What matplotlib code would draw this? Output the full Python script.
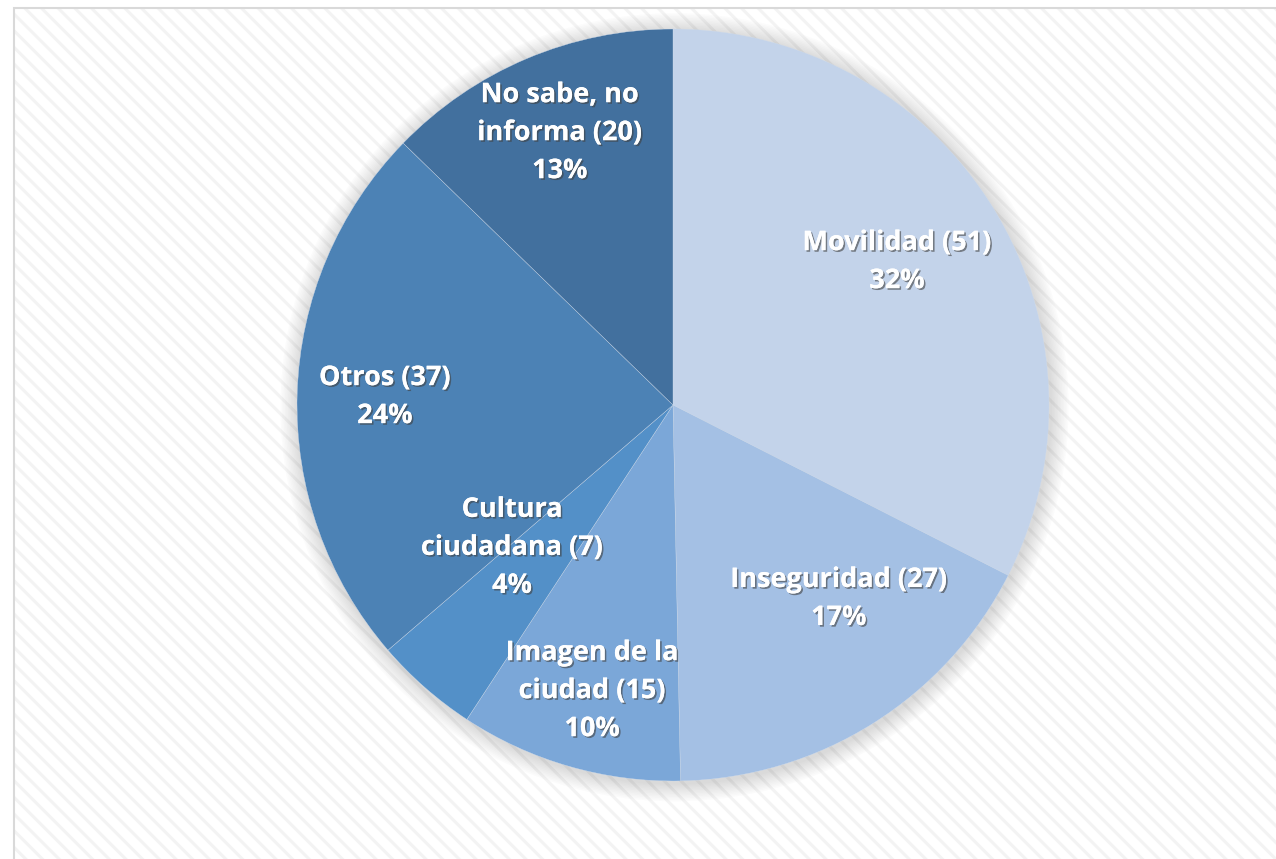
import matplotlib.pyplot as plt
import matplotlib.patheffects as pe
from matplotlib.patches import Rectangle, Circle

categorias = ["Movilidad", "Inseguridad", "Imagen de la\nciudad", "Cultura\nciudadana", "Otros", "No sabe, no\ninforma"]
valores = [51, 27, 15, 7, 37, 20]
colores = ["#C3D3EA", "#A4C0E4", "#7BA7D8", "#5390C8", "#4C82B5", "#42709E"]
# label centres, in pie-radius units from the centre
pos_etiquetas = [(0.596, 0.380), (0.441, -0.516), (-0.215, -0.761),
                 (-0.428, -0.380), (-0.766, 0.021), (-0.301, 0.723)]

W, H = 1276, 859
cx, cy, R = 673, 405, 376

plt.rcParams["hatch.linewidth"] = 2.2

fig = plt.figure(figsize=(W / 100, H / 100), dpi=100, facecolor="white")
fondo = Rectangle((14 / W, -0.1), 1.2, 1 - 8 / H + 0.1, transform=fig.transFigure,
                  facecolor="white", edgecolor="#f3f3f3", hatch="\\\\", linewidth=0, zorder=-2)
marco = Rectangle((14 / W, -0.1), 1.2, 1 - 8 / H + 0.1, transform=fig.transFigure,
                  fill=False, edgecolor="#d9d9d9", linewidth=1.5, zorder=-1)
fig.patches.extend([fondo, marco])

ax = fig.add_axes([0, 0, 1, 1])
ax.patch.set_visible(False)

# soft shadow round the pie
for i in range(12):
    ax.add_patch(Circle((0.004, -0.006), 1.0 + 0.004 * (12 - i), facecolor="#7f7f7f",
                        alpha=0.025, linewidth=0, zorder=0))

total = sum(valores)
wedges, _ = ax.pie(valores, colors=colores, startangle=90, counterclock=False,
                   radius=1, wedgeprops=dict(edgecolor="#d0dcec", linewidth=0.25))
for w in wedges:
    w.set_zorder(2)

sombra = [pe.withSimplePatchShadow(offset=(1.2, -1.2), shadow_rgbFace="#404040", alpha=0.6), pe.Normal()]
for nombre, v, (x, y) in zip(categorias, valores, pos_etiquetas):
    txt = f"{nombre} ({v})\n{round(100 * v / total)}%"
    ax.text(x, y, txt, ha="center", va="center", color="white", fontsize=19.5,
            fontweight="bold", family="Open Sans", linespacing=1.6,
            path_effects=sombra, zorder=5)

ax.set_aspect("auto")
ax.set_xlim(-cx / R, (W - cx) / R)
ax.set_ylim(-(H - cy) / R, cy / R)
ax.axis("off")

fig.savefig("out.png", dpi=100, facecolor="white")
